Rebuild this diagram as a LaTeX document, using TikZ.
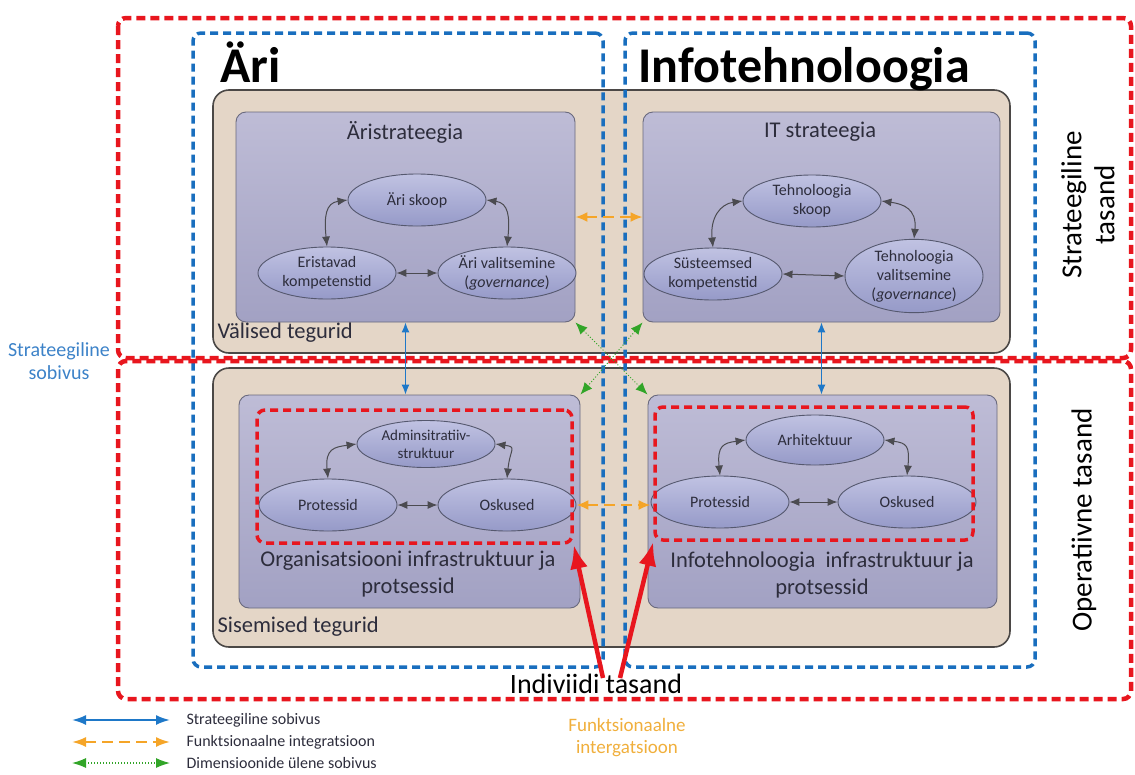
\documentclass[tikz,border=0pt]{standalone}
\usepackage{fontspec}
\setmainfont{Carlito}
\usetikzlibrary{shapes.geometric,arrows.meta,calc}

\definecolor{tanfill}{RGB}{228,214,199}
\definecolor{tanedge}{RGB}{75,72,70}
\definecolor{boxtop}{RGB}{190,188,214}
\definecolor{boxbot}{RGB}{162,161,195}
\definecolor{boxedge}{RGB}{105,105,125}
\definecolor{elltop}{RGB}{192,194,226}
\definecolor{ellbot}{RGB}{150,154,200}
\definecolor{elledge}{RGB}{85,88,110}
\definecolor{ink}{RGB}{45,45,60}
\definecolor{dashred}{RGB}{232,22,30}
\definecolor{dashblue}{RGB}{25,110,190}
\definecolor{fitblue}{RGB}{30,120,200}
\definecolor{fitorange}{RGB}{245,165,40}
\definecolor{fitgreen}{RGB}{50,165,40}
\definecolor{arrowgray}{RGB}{75,75,80}
\definecolor{labelblue}{RGB}{60,130,200}
\definecolor{labelorange}{RGB}{240,175,60}

\begin{document}
\begin{tikzpicture}[x=1pt,y=-1pt,
  tanbox/.style={draw=tanedge,line width=1.6pt,fill=tanfill,rounded corners=16pt,inner sep=0pt},
  panel/.style={draw=boxedge,line width=0.9pt,top color=boxtop,bottom color=boxbot,rounded corners=10pt,inner sep=0pt},
  ell/.style={ellipse,draw=elledge,line width=0.9pt,top color=elltop,bottom color=ellbot,
    minimum width=138pt,minimum height=52pt,inner sep=0pt,align=center,text=ink,
    font=\fontsize{16pt}{19pt}\selectfont},
  cyc/.style={draw=arrowgray,line width=1pt,{Latex[length=10pt,width=8pt]}-{Latex[length=10pt,width=8pt]}},
  paneltitle/.style={text=ink,font=\fontsize{22.5pt}{27pt}\selectfont,align=center},
  reddash/.style={draw=dashred,line width=4.5pt,dash pattern=on 9pt off 5pt,rounded corners=8pt},
  redframe/.style={draw=dashred,line width=3.5pt,dash pattern=on 8pt off 5pt,rounded corners=8pt,inner sep=0pt},
  bluedash/.style={draw=dashblue,line width=3.5pt,dash pattern=on 8pt off 5pt,rounded corners=8pt,inner sep=0pt},
  bluefit/.style={draw=fitblue,line width=1.3pt,{Latex[length=10pt,width=8pt]}-{Latex[length=10pt,width=8pt]}},
  orangefit/.style={draw=fitorange,line width=2pt,dash pattern=on 11pt off 6pt,{Latex[length=12pt,width=10pt]}-{Latex[length=12pt,width=10pt]}},
  greenfit/.style={draw=fitgreen,line width=1pt,dotted,{Latex[length=12pt,width=10pt]}-{Latex[length=12pt,width=10pt]}},
  bigred/.style={draw=dashred,line width=4.5pt,-{Latex[length=24pt,width=18pt]}},
  legtip/.style={{Latex[length=14pt,width=10pt]}-{Latex[length=14pt,width=10pt]}},
  legtext/.style={anchor=west,text=ink,font=\fontsize{16pt}{19pt}\selectfont},
  bigtitle/.style={anchor=base west,font=\fontsize{50pt}{60pt}\selectfont\bfseries},
]
\useasboundingbox (0,0) rectangle (1135,774);

% level backgrounds
\node[tanbox,minimum width=797pt,minimum height=263pt] (tanTop) at (611.5,221.5) {};
\node[tanbox,minimum width=797pt,minimum height=279pt] (tanBot) at (611.5,507.5) {};

% four panels
\node[panel,minimum width=339pt,minimum height=210pt] (tlBox) at (405.5,217) {};
\node[panel,minimum width=357pt,minimum height=210pt] (trBox) at (821.5,217) {};
\node[panel,minimum width=341pt,minimum height=213pt] (blBox) at (409.5,501.5) {};
\node[panel,minimum width=349pt,minimum height=213pt] (brBox) at (822.5,501.5) {};

% panel titles and level labels
\node[paneltitle] (tlTitle) at (405,132) {Äristrateegia};
\node[paneltitle] (trTitle) at (820,132) {IT strateegia};
\node[paneltitle] (blTitle) at (408,574) {Organisatsiooni infrastruktuur ja\\protsessid};
\node[paneltitle] (brTitle) at (822,575) {Infotehnoloogia\ \ infrastruktuur ja\\protsessid};
\node[paneltitle,anchor=west] (extLbl) at (214,333) {Välised tegurid};
\node[paneltitle,anchor=west] (intLbl) at (214,627) {Sisemised tegurid};

% business strategy cycle
\node[ell] (skoopA) at (417,200) {Äri skoop};
\node[ell] (eristA) at (327,273) {Eristavad\\kompetenstid};
\node[ell] (valitsA) at (507,273) {Äri valitsemine\\(\textit{governance})};
% IT strategy cycle
\node[ell] (skoopB) at (812,201) {Tehnoloogia\\skoop};
\node[ell] (systB) at (713,274) {Süsteemsed\\kompetenstid};
\node[ell] (valitsB) at (914,276) {Tehnoloogia\\valitsemine\\(\textit{governance})};
% organisational infrastructure cycle
\node[ell,minimum height=47pt,font=\fontsize{15pt}{18pt}\selectfont] (adminC) at (426,444) {Adminsitratiiv-\\struktuur};
\node[ell] (protC) at (328,505) {Protessid};
\node[ell] (oskC) at (507,505) {Oskused};
% IT infrastructure cycle
\node[ell,minimum height=50pt] (arhD) at (815,440) {Arhitektuur};
\node[ell] (protD) at (720,502) {Protessid};
\node[ell] (oskD) at (907,502) {Oskused};

% cycle arrows
\foreach \T/\L/\R in {skoopA/eristA/valitsA, skoopB/systB/valitsB, adminC/protC/oskC, arhD/protD/oskD}{
  \draw[cyc] (\L.north) .. controls +(-3,-30) and +(-22,3) .. (\T.west);
  \draw[cyc] (\T.east) .. controls +(22,3) and +(3,-30) .. (\R.north);
  \draw[cyc] (\L.east) -- (\R.west);
}

% operational focus frames
\node[redframe,minimum width=315pt,minimum height=133pt] (blFrame) at (414.5,476.5) {};
\node[redframe,minimum width=318pt,minimum height=133pt] (brFrame) at (814,473.5) {};

% domain frames
\node[bluedash,minimum width=410pt,minimum height=634pt] (bizFrame) at (398,350) {};
\node[bluedash,minimum width=410pt,minimum height=634pt] (itFrame) at (830,350) {};
\node[bigtitle] (bizTitle) at (217,82) {Äri};
\node[bigtitle] (itTitle) at (635,82) {Infotehnoloogia};

% level frames
\draw[reddash] (118,18) rectangle (1131,358);
\draw[reddash] (118,361) rectangle (1131,699);

% alignment arrows
\draw[bluefit] (tlBox.south) -- (blBox.north -| tlBox.south);
\draw[bluefit] (trBox.south) -- (brBox.north -| trBox.south);
\draw[orangefit] (tlBox.east) -- (trBox.west);
\draw[orangefit] (oskC.east) -- (oskC.east -| protD.west);
\draw[greenfit] (tlBox.south east) -- (brBox.north west);
\draw[greenfit] (trBox.south west) -- (blBox.north east);

% individual level
\node[text=black,font=\fontsize{28pt}{32pt}\selectfont] (indiv) at (596,684) {Indiviidi tasand};
\coordinate (indivL) at (603,678);
\coordinate (indivR) at (620,678);
\draw[bigred] (indivL) -- (blFrame.south east);
\draw[bigred] (indivR) -- (brFrame.south west);

% side labels
\node[rotate=90,align=center,font=\fontsize{29pt}{33pt}\selectfont] (stratLvl) at (1088,205) {Strateegiline\\tasand};
\node[rotate=90,font=\fontsize{29pt}{33pt}\selectfont] (opLvl) at (1084,520) {Operatiivne tasand};
\node[text=labelblue,align=center,font=\fontsize{20pt}{23pt}\selectfont] (stratFit) at (59,361) {Strateegiline\\sobivus};
\node[text=labelorange,align=center,font=\fontsize{19pt}{22pt}\selectfont] (funcInt) at (627,738) {Funktsionaalne\\intergatsioon};

% legend
\coordinate (lgA1) at (72,720);  \coordinate (lgA2) at (170,720);
\coordinate (lgB1) at (72,742);  \coordinate (lgB2) at (170,742);
\coordinate (lgC1) at (72,763);  \coordinate (lgC2) at (170,763);
\draw[bluefit,line width=2pt,legtip] (lgA1) -- (lgA2);
\draw[orangefit,legtip] (lgB1) -- (lgB2);
\draw[greenfit,line width=1.2pt,legtip] (lgC1) -- (lgC2);
\node[legtext] (lgAt) at (183,720) {Strateegiline sobivus};
\node[legtext] (lgBt) at (183,742) {Funktsionaalne integratsioon};
\node[legtext] (lgCt) at (183,763) {Dimensioonide ülene sobivus};
\end{tikzpicture}
\end{document}
